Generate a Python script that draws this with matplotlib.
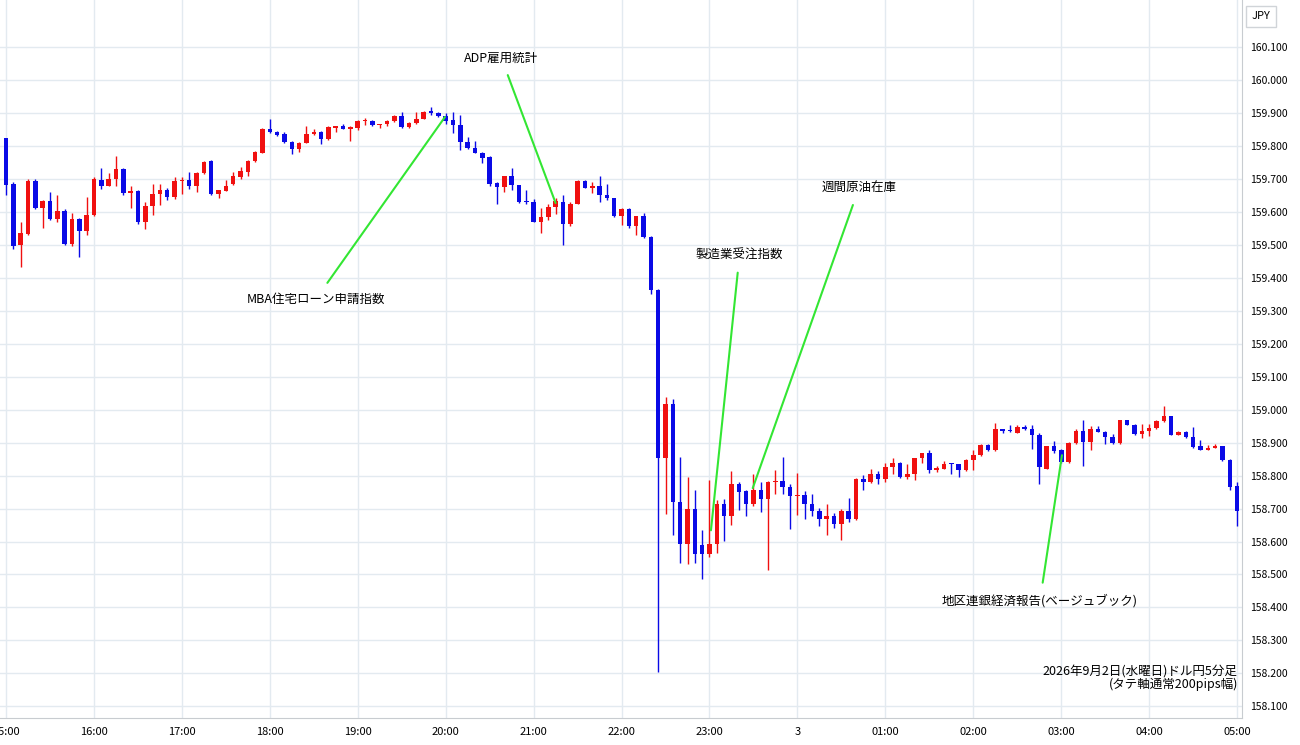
import matplotlib
matplotlib.use("Agg")
import matplotlib.pyplot as plt
import numpy as np

plt.rcParams['font.family'] = ['Noto Sans CJK JP', 'DejaVu Sans']

# ドル円5分足 15:00 - 05:00 (open, high, low, close)
ohlc = [
    (159.823, 159.823, 159.651, 159.681), (159.684, 159.690, 159.487, 159.496),
    (159.499, 159.570, 159.433, 159.535), (159.532, 159.701, 159.530, 159.694),
    (159.694, 159.700, 159.610, 159.612), (159.612, 159.635, 159.550, 159.633),
    (159.633, 159.661, 159.575, 159.578), (159.578, 159.651, 159.570, 159.603),
    (159.603, 159.610, 159.500, 159.502), (159.502, 159.597, 159.496, 159.580),
    (159.580, 159.582, 159.464, 159.543), (159.543, 159.646, 159.530, 159.590),
    (159.590, 159.705, 159.588, 159.701), (159.698, 159.734, 159.671, 159.679),
    (159.679, 159.719, 159.679, 159.699), (159.699, 159.769, 159.678, 159.730),
    (159.730, 159.732, 159.652, 159.656), (159.656, 159.679, 159.611, 159.664),
    (159.664, 159.666, 159.563, 159.570), (159.570, 159.630, 159.547, 159.617),
    (159.617, 159.684, 159.590, 159.654), (159.654, 159.684, 159.620, 159.668),
    (159.668, 159.672, 159.636, 159.644), (159.644, 159.705, 159.640, 159.693),
    (159.693, 159.705, 159.655, 159.698), (159.698, 159.722, 159.671, 159.678),
    (159.678, 159.722, 159.661, 159.717), (159.717, 159.755, 159.715, 159.752),
    (159.754, 159.759, 159.652, 159.654), (159.654, 159.668, 159.641, 159.666),
    (159.664, 159.698, 159.662, 159.679), (159.684, 159.720, 159.682, 159.708),
    (159.706, 159.737, 159.700, 159.724), (159.722, 159.757, 159.708, 159.756),
    (159.754, 159.785, 159.750, 159.782), (159.780, 159.855, 159.778, 159.853),
    (159.853, 159.881, 159.840, 159.843), (159.843, 159.845, 159.830, 159.833),
    (159.836, 159.843, 159.808, 159.813), (159.813, 159.815, 159.775, 159.792),
    (159.792, 159.812, 159.782, 159.810), (159.810, 159.860, 159.808, 159.835),
    (159.835, 159.853, 159.833, 159.843), (159.843, 159.845, 159.805, 159.820),
    (159.820, 159.862, 159.818, 159.858), (159.855, 159.862, 159.843, 159.860),
    (159.860, 159.866, 159.851, 159.853), (159.853, 159.860, 159.815, 159.858),
    (159.855, 159.878, 159.850, 159.876), (159.875, 159.886, 159.863, 159.877),
    (159.877, 159.879, 159.861, 159.863), (159.863, 159.868, 159.856, 159.866),
    (159.866, 159.879, 159.860, 159.876), (159.876, 159.895, 159.874, 159.891),
    (159.891, 159.904, 159.856, 159.858), (159.858, 159.872, 159.856, 159.870),
    (159.870, 159.904, 159.868, 159.883), (159.883, 159.906, 159.881, 159.904),
    (159.904, 159.919, 159.894, 159.901), (159.901, 159.903, 159.889, 159.891),
    (159.891, 159.899, 159.868, 159.876), (159.880, 159.904, 159.840, 159.863),
    (159.863, 159.894, 159.787, 159.813), (159.813, 159.826, 159.790, 159.794),
    (159.795, 159.816, 159.778, 159.780), (159.780, 159.782, 159.749, 159.765),
    (159.767, 159.769, 159.678, 159.686), (159.688, 159.690, 159.623, 159.676),
    (159.676, 159.710, 159.661, 159.708), (159.708, 159.734, 159.668, 159.681),
    (159.681, 159.683, 159.628, 159.631), (159.633, 159.666, 159.624, 159.629),
    (159.629, 159.638, 159.568, 159.570), (159.570, 159.613, 159.536, 159.585),
    (159.585, 159.625, 159.575, 159.615), (159.615, 159.641, 159.595, 159.632),
    (159.630, 159.651, 159.499, 159.562), (159.562, 159.630, 159.558, 159.625),
    (159.625, 159.697, 159.623, 159.694), (159.694, 159.697, 159.672, 159.674),
    (159.674, 159.691, 159.656, 159.678), (159.678, 159.708, 159.631, 159.651),
    (159.651, 159.686, 159.636, 159.641), (159.641, 159.643, 159.585, 159.587),
    (159.587, 159.612, 159.560, 159.610), (159.610, 159.612, 159.550, 159.557),
    (159.557, 159.589, 159.529, 159.587), (159.587, 159.597, 159.522, 159.524),
    (159.524, 159.526, 159.350, 159.363), (159.363, 159.365, 158.204, 158.852),
    (158.852, 159.039, 158.685, 159.017), (159.017, 159.031, 158.619, 158.720),
    (158.720, 158.857, 158.535, 158.592), (158.592, 158.796, 158.533, 158.700),
    (158.700, 158.755, 158.535, 158.561), (158.589, 158.636, 158.487, 158.561),
    (158.561, 158.786, 158.553, 158.592), (158.592, 158.725, 158.565, 158.715),
    (158.715, 158.730, 158.602, 158.677), (158.677, 158.814, 158.650, 158.776),
    (158.776, 158.781, 158.695, 158.750), (158.753, 158.755, 158.677, 158.713),
    (158.713, 158.804, 158.707, 158.756), (158.756, 158.781, 158.690, 158.730),
    (158.730, 158.783, 158.513, 158.781), (158.781, 158.816, 158.745, 158.784),
    (158.784, 158.857, 158.745, 158.764), (158.764, 158.774, 158.639, 158.737),
    (158.737, 158.808, 158.680, 158.740), (158.740, 158.754, 158.667, 158.715),
    (158.715, 158.745, 158.677, 158.693), (158.693, 158.703, 158.646, 158.667),
    (158.667, 158.713, 158.619, 158.678), (158.678, 158.687, 158.642, 158.654),
    (158.654, 158.700, 158.606, 158.693), (158.693, 158.733, 158.660, 158.667),
    (158.667, 158.793, 158.665, 158.791), (158.791, 158.803, 158.756, 158.781),
    (158.781, 158.821, 158.778, 158.804), (158.806, 158.814, 158.776, 158.791),
    (158.791, 158.838, 158.781, 158.826), (158.826, 158.852, 158.806, 158.839),
    (158.839, 158.841, 158.794, 158.796), (158.796, 158.834, 158.790, 158.804),
    (158.804, 158.853, 158.788, 158.852), (158.852, 158.870, 158.839, 158.869),
    (158.869, 158.879, 158.808, 158.818), (158.818, 158.828, 158.811, 158.821),
    (158.821, 158.844, 158.819, 158.836), (158.836, 158.838, 158.804, 158.834),
    (158.834, 158.835, 158.796, 158.816), (158.816, 158.849, 158.814, 158.847),
    (158.847, 158.879, 158.818, 158.862), (158.862, 158.895, 158.860, 158.892),
    (158.892, 158.895, 158.875, 158.877), (158.877, 158.960, 158.875, 158.940),
    (158.940, 158.942, 158.928, 158.935), (158.936, 158.953, 158.932, 158.934),
    (158.930, 158.953, 158.928, 158.948), (158.946, 158.953, 158.938, 158.940),
    (158.940, 158.953, 158.882, 158.922), (158.924, 158.930, 158.774, 158.826),
    (158.821, 158.890, 158.819, 158.889), (158.889, 158.905, 158.870, 158.875),
    (158.879, 158.880, 158.838, 158.840), (158.840, 158.902, 158.838, 158.900),
    (158.900, 158.940, 158.897, 158.935), (158.935, 158.970, 158.828, 158.902),
    (158.902, 158.950, 158.877, 158.940), (158.940, 158.950, 158.931, 158.933),
    (158.933, 158.935, 158.897, 158.917), (158.917, 158.927, 158.897, 158.899),
    (158.899, 158.970, 158.897, 158.968), (158.968, 158.970, 158.953, 158.955),
    (158.955, 158.957, 158.923, 158.925), (158.925, 158.956, 158.915, 158.935),
    (158.935, 158.956, 158.920, 158.943), (158.943, 158.968, 158.941, 158.966),
    (158.966, 159.010, 158.964, 158.980), (158.980, 158.982, 158.922, 158.924),
    (158.924, 158.935, 158.922, 158.933), (158.933, 158.935, 158.915, 158.917),
    (158.917, 158.946, 158.885, 158.887), (158.889, 158.907, 158.877, 158.879),
    (158.879, 158.892, 158.877, 158.885), (158.885, 158.895, 158.883, 158.889),
    (158.889, 158.891, 158.845, 158.847), (158.847, 158.849, 158.756, 158.764),
    (158.768, 158.781, 158.646, 158.692),
]
hour_labels = ["15:00", "16:00", "17:00", "18:00", "19:00", "20:00", "21:00", "22:00",
               "23:00", "3", "01:00", "02:00", "03:00", "04:00", "05:00"]
price_ticks = np.round(np.arange(158.1, 160.1001, 0.1), 1)

# 指標発表 (テキスト, ローソク足番号, 価格, テキスト位置x, テキスト位置y)
events = [
    ("ADP雇用統計", 75, 159.627, 67.6, 160.067),
    ("MBA住宅ローン申請指数", 59.9, 159.888, 42.3, 159.336),
    ("製造業受注指数", 96.2, 158.634, 100.1, 159.469),
    ("週間原油在庫", 101.9, 158.762, 116.4, 159.673),
    ("地区連銀経済報告(ベージュブック)", 144.1, 158.862, 141.1, 158.421),
]

o, h, l, c = np.array(ohlc).T
x = np.arange(len(o))
up = c >= o
colors = np.where(up, "#f01010", "#0a0ae6")

fig = plt.figure(figsize=(13, 7.45), dpi=100)
ax = fig.add_axes([0, 0.036, 0.955, 0.964])

ax.vlines(x, l, h, colors=colors, linewidth=1.0, zorder=2)
body_low = np.minimum(o, c)
body_h = np.maximum(np.abs(c - o), 0.004)
ax.bar(x, body_h, bottom=body_low, width=0.62, color=colors, zorder=3)

ax.set_xlim(-0.82, 168.6)
ax.set_ylim(158.064, 160.243)
ax.set_xticks(np.arange(0, 169, 12))
ax.set_xticklabels(hour_labels, fontsize=8)
ax.set_yticks(price_ticks)
ax.yaxis.tick_right()
ax.set_yticklabels(["%.3f" % p for p in price_ticks], fontsize=7.5)
ax.tick_params(axis="both", length=0, pad=6)
ax.grid(True, color="#e3eaf0", linewidth=1.0)
ax.set_axisbelow(True)
for s in ["top", "left"]:
    ax.spines[s].set_visible(False)
ax.spines["right"].set_color("#c8ccd0")
ax.spines["bottom"].set_color("#c8ccd0")

for label, ex, ey, tx, ty in events:
    ax.annotate(label, xy=(ex, ey), xytext=(tx, ty), fontsize=9,
                ha="center", va="center",
                arrowprops=dict(arrowstyle="-", color="#33e633", lw=1.5,
                                shrinkA=6, shrinkB=0))

fig.text(0.963, 0.978, "JPY", fontsize=8, ha="left", va="center",
         bbox=dict(boxstyle="square,pad=0.5", fc="white", ec="#d0d4d8"))
ax.text(0.997, 0.038, "2026年9月2日(水曜日)ドル円5分足\n(タテ軸通常200pips幅)",
        transform=ax.transAxes, ha="right", va="bottom", fontsize=9,
        linespacing=0.95)

fig.savefig("out.png")
